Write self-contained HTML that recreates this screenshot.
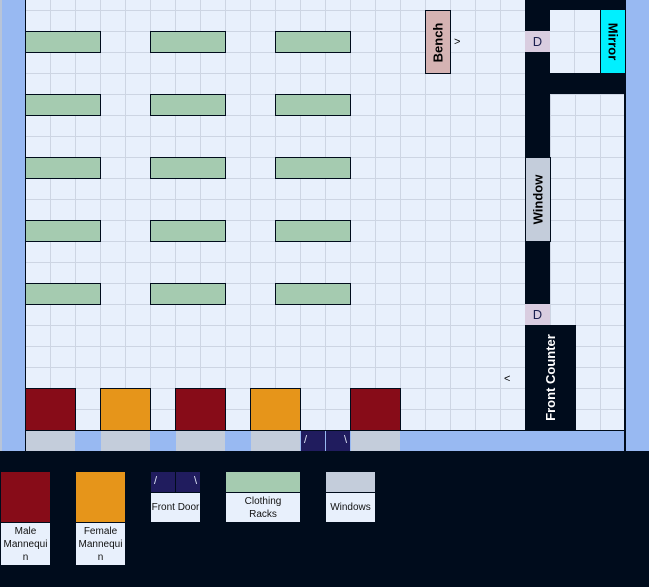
<!DOCTYPE html>
<html><head><meta charset="utf-8"><style>
*{margin:0;padding:0;box-sizing:border-box}
body{width:649px;height:587px;position:relative;overflow:hidden;background:#98b9f2;font-family:"Liberation Sans",sans-serif}
div{position:absolute}
.grid{left:25px;top:0;width:600px;height:430px;background-color:#e8f0fc;
background-image:linear-gradient(to right,#cdd5e3 1px,transparent 1px),linear-gradient(to bottom,#cdd5e3 1px,transparent 1px);
background-size:25px 21px;background-position:0 10px}
.b{border:1px solid #000c1c}
.rack{background:#a5cbb0;width:76px;height:22px;border:1px solid #000c1c}
.male{background:#870c18}.fem{background:#e6951a}
.win{background:#c4cddb}
.door{background:#201c5e;color:#dfe6f7;font-size:11px}
.blk{background:#000c1c}
.rot{display:flex;align-items:center;justify-content:center}
.rot span{transform:rotate(-90deg);white-space:nowrap;font-weight:bold;font-size:13px}
.lab{background:#e8f0fc;font-size:10px;text-align:center;color:#111;display:flex;align-items:center;justify-content:center;line-height:13px}
</style></head><body>
<div style="left:0;top:0;width:2px;height:451px;background:#b8c4d8"></div>
<div class="grid"></div>
<div style="left:624px;top:0;width:2px;height:451px;background:#000c1c"></div>
<div style="left:25px;top:0;width:1px;height:451px;background:#000c1c"></div>
<div class="rack" style="left:25px;top:31px"></div><div class="rack" style="left:150px;top:31px"></div><div class="rack" style="left:275px;top:31px"></div>
<div class="rack" style="left:25px;top:94px"></div><div class="rack" style="left:150px;top:94px"></div><div class="rack" style="left:275px;top:94px"></div>
<div class="rack" style="left:25px;top:157px"></div><div class="rack" style="left:150px;top:157px"></div><div class="rack" style="left:275px;top:157px"></div>
<div class="rack" style="left:25px;top:220px"></div><div class="rack" style="left:150px;top:220px"></div><div class="rack" style="left:275px;top:220px"></div>
<div class="rack" style="left:25px;top:283px"></div><div class="rack" style="left:150px;top:283px"></div><div class="rack" style="left:275px;top:283px"></div>
<div class="b rot" style="left:425px;top:10px;width:26px;height:64px;background:#d5b3b3"><span>Bench</span></div>
<div style="left:454px;top:36px;font-size:11px">&gt;</div>
<div class="blk" style="left:525px;top:0;width:100px;height:10px"></div>
<div class="blk" style="left:525px;top:0;width:25px;height:430px"></div>
<div class="blk" style="left:525px;top:73px;width:100px;height:21px"></div>
<div style="left:550px;top:10px;width:50px;height:63px;background:#e8f0fc"></div>
<div style="left:574px;top:10px;width:1px;height:63px;background:#cdd5e3"></div>
<div style="left:550px;top:31px;width:50px;height:1px;background:#cdd5e3"></div>
<div style="left:550px;top:52px;width:50px;height:1px;background:#cdd5e3"></div>
<div class="rot" style="left:600px;top:10px;width:25px;height:63px;background:#00f0ff;border-left:1px solid #000c1c"><span style="transform:rotate(90deg)">Mirror</span></div>
<div class="rot" style="left:525px;top:31px;width:25px;height:21px;background:#d9cde0;font-size:13px;color:#1c2050">D</div>
<div class="b rot win" style="left:525px;top:157px;width:26px;height:85px"><span>Window</span></div>
<div class="rot" style="left:525px;top:304px;width:25px;height:21px;background:#d9cde0;font-size:13px;color:#1c2050">D</div>
<div class="blk rot" style="left:525px;top:325px;width:51px;height:105px;color:#fff"><span>Front Counter</span></div>
<div style="left:504px;top:373px;font-size:11px">&lt;</div>
<div class="b male" style="left:25px;top:388px;width:51px;height:43px"></div>
<div class="b fem" style="left:100px;top:388px;width:51px;height:43px"></div>
<div class="b male" style="left:175px;top:388px;width:51px;height:43px"></div>
<div class="b fem" style="left:250px;top:388px;width:51px;height:43px"></div>
<div class="b male" style="left:350px;top:388px;width:51px;height:43px"></div>
<div style="left:25px;top:430px;width:600px;height:1px;background:#000c1c"></div>
<div class="win" style="left:26px;top:431px;width:49px;height:20px"></div>
<div class="win" style="left:101px;top:431px;width:49px;height:20px"></div>
<div class="win" style="left:176px;top:431px;width:49px;height:20px"></div>
<div class="win" style="left:251px;top:431px;width:49px;height:20px"></div>
<div class="door" style="left:301px;top:431px;width:24px;height:20px;padding:3px 0 0 3px">/</div>
<div class="door" style="left:326px;top:431px;width:24px;height:20px;padding:3px 0 0 18px">\</div>
<div class="win" style="left:351px;top:431px;width:49px;height:20px"></div>
<div class="blk" style="left:0;top:451px;width:649px;height:136px"></div>
<div class="male" style="left:1px;top:472px;width:49px;height:50px"></div>
<div class="lab" style="left:1px;top:523px;width:49px;height:42px">Male<br>Mannequi<br>n</div>
<div class="fem" style="left:76px;top:472px;width:49px;height:50px"></div>
<div class="lab" style="left:76px;top:523px;width:49px;height:42px">Female<br>Mannequi<br>n</div>
<div class="door" style="left:151px;top:472px;width:24px;height:20px;padding:3px 0 0 3px">/</div>
<div class="door" style="left:176px;top:472px;width:24px;height:20px;padding:3px 0 0 18px">\</div>
<div class="lab" style="left:151px;top:493px;width:49px;height:29px">Front Door</div>
<div style="left:226px;top:472px;width:74px;height:20px;background:#a5cbb0"></div>
<div class="lab" style="left:226px;top:493px;width:74px;height:29px">Clothing<br>Racks</div>
<div class="win" style="left:326px;top:472px;width:49px;height:20px"></div>
<div class="lab" style="left:326px;top:493px;width:49px;height:29px">Windows</div>
</body></html>
